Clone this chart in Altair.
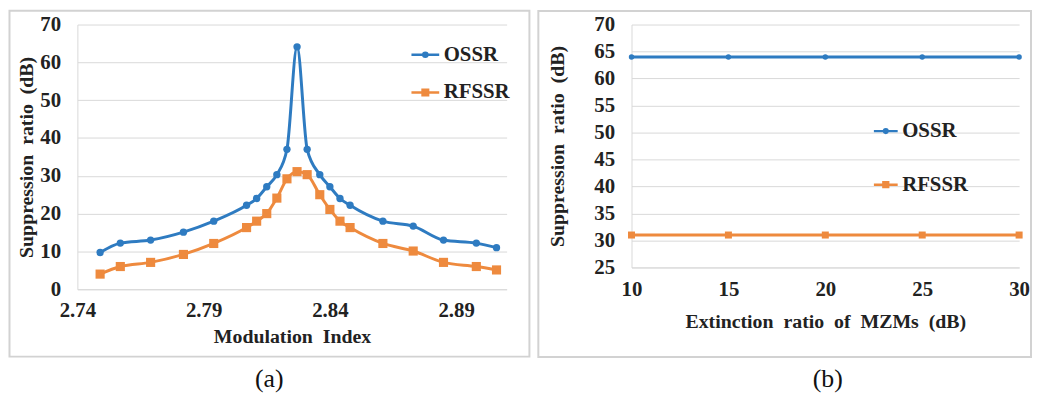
import altair as alt
import pandas as pd

# ---------------- data ----------------
series_names = ["OSSR", "RFSSR"]

mod_index = [2.749, 2.757, 2.769, 2.782, 2.794, 2.807, 2.811, 2.815, 2.819, 2.823, 2.827,
             2.831, 2.836, 2.840, 2.844, 2.848, 2.861, 2.873, 2.885, 2.898, 2.906]
ossr_a = [9.7, 12.2, 13.0, 15.1, 18.0, 22.2, 24.0, 27.1, 30.3, 37.0, 64.1,
          37.0, 30.3, 27.1, 24.0, 22.2, 18.0, 16.7, 13.0, 12.2, 11.0]
rfssr_a = [4.0, 6.0, 7.1, 9.2, 12.1, 16.3, 18.0, 20.0, 24.1, 29.2, 31.1,
           30.3, 25.0, 21.1, 18.0, 16.3, 12.1, 10.1, 7.1, 6.0, 5.1]

ext_ratio = [10, 15, 20, 25, 30]
ossr_b = [64, 64, 64, 64, 64]
rfssr_b = [31, 31, 31, 31, 31]

x_ticks_a = [2.74, 2.79, 2.84, 2.89]
y_ticks_a = [0, 10, 20, 30, 40, 50, 60, 70]
x_ticks_b = [10, 15, 20, 25, 30]
y_ticks_b = [25, 30, 35, 40, 45, 50, 55, 60, 65, 70]

BLUE = "#2E7BC1"
ORANGE = "#EE8A3E"
FONT = "Liberation Serif"
TXT = "#222222"
GRID = "#D9D9D9"
FRAME = "#D2D2D2"

# legend symbols: short line with a marker in the middle
LEG_CIRCLE = "M-1,0H1M-0.15,0A0.15,0.15 0 1,0 0.15,0A0.15,0.15 0 1,0 -0.15,0Z"
LEG_SQUARE = "M-1,0H1M-0.2,-0.2H0.2V0.2H-0.2Z"


def make_df(xs, a, b):
    return pd.DataFrame({
        "x": xs + xs,
        "y": a + b,
        "series": [series_names[0]] * len(xs) + [series_names[1]] * len(xs),
    })


def panel(df, xdom, xvals, xfmt, xtitle, ydom, yvals, ytitle, w, h,
          frame, caption, cap_xy, leg, circ_size, sq_size, lw,
          xlp, xtp, ylp, ytp):
    X = alt.X("x:Q", scale=alt.Scale(domain=xdom, nice=False, zero=False),
              axis=alt.Axis(values=xvals, format=xfmt, grid=False, labelFlush=False,
                            labelPadding=xlp, titlePadding=xtp, labelOverlap=False),
              title=xtitle)
    Y = alt.Y("y:Q", scale=alt.Scale(domain=ydom, nice=False, zero=False),
              axis=alt.Axis(values=yvals, grid=True, labelPadding=ylp, titlePadding=ytp,
                            labelOverlap=False),
              title=ytitle)

    one = pd.DataFrame({"caption": [caption]})
    frame_layer = alt.Chart(one).mark_rect(fill="transparent", stroke=FRAME, strokeWidth=2).encode(
        x=alt.value(frame[0]), x2=alt.value(frame[1]),
        y=alt.value(frame[2]), y2=alt.value(frame[3]))
    cap_layer = alt.Chart(one).mark_text(font=FONT, fontSize=26, color="#111",
                                         align="center", baseline="middle").encode(
        text="caption:N", x=alt.value(cap_xy[0]), y=alt.value(cap_xy[1]))

    base = alt.Chart(df)
    line_o = base.transform_filter(alt.datum.series == "OSSR").mark_line(
        color=BLUE, strokeWidth=lw, interpolate="monotone").encode(x=X, y=Y)
    line_r = base.transform_filter(alt.datum.series == "RFSSR").mark_line(
        color=ORANGE, strokeWidth=lw, interpolate="monotone").encode(x=X, y=Y)
    pt_o = base.transform_filter(alt.datum.series == "OSSR").mark_circle(
        color=BLUE, size=circ_size, opacity=1).encode(x=X, y=Y)
    pt_r = base.transform_filter(alt.datum.series == "RFSSR").mark_square(
        color=ORANGE, size=sq_size, opacity=1).encode(x=X, y=Y)

    lg = alt.Legend(orient="none", legendX=leg["x"], legendY=leg["y"], title=None,
                    symbolSize=leg["size"], symbolStrokeWidth=2.5,
                    labelFont=FONT, labelFontSize=21, labelFontWeight="bold",
                    labelColor=TXT, labelOffset=leg["off"], rowPadding=leg["rp"],
                    padding=0)
    legend_layer = base.transform_filter("false").mark_point(
        filled=True, opacity=1, strokeWidth=2.5).encode(
        x=X, y=Y,
        fill=alt.Fill("series:N", scale=alt.Scale(domain=series_names, range=[BLUE, ORANGE]), legend=lg),
        stroke=alt.Stroke("series:N", scale=alt.Scale(domain=series_names, range=[BLUE, ORANGE]), legend=lg),
        shape=alt.Shape("series:N", scale=alt.Scale(domain=series_names, range=[LEG_CIRCLE, LEG_SQUARE]), legend=lg),
    )
    return alt.layer(frame_layer, cap_layer, line_o, line_r, pt_o, pt_r, legend_layer).properties(
        width=w, height=h)


df_a = make_df(mod_index, ossr_a, rfssr_a)
df_b = make_df(ext_ratio, ossr_b, rfssr_b)

W_A, H_A = 433, 267
W_B, H_B = 391, 245

chart_a = panel(df_a, [2.74, 2.91], x_ticks_a, ".2f", "Modulation\u00a0 Index",
                [0, 70], y_ticks_a, "Suppression\u00a0 ratio\u00a0 (dB)", W_A, H_A,
                frame=(-68.5, W_A + 23, -14, H_A + 68), caption="(a)", cap_xy=(193.5, 358),
                leg={"x": 335.5, "y": 15, "size": 784, "off": 3, "rp": 12},
                circ_size=55, sq_size=85, lw=3, xlp=11, xtp=6, ylp=17, ytp=3)

chart_b = panel(df_b, [10, 30], x_ticks_b, "d", "Extinction\u00a0 ratio\u00a0 of\u00a0 MZMs\u00a0 (dB)",
                [25, 70], y_ticks_b, "Suppression\u00a0 ratio\u00a0 (dB)", W_B, H_B,
                frame=(-94, W_B + 12, -13.7, H_B + 90.3), caption="(b)", cap_xy=(198, 358),
                leg={"x": 243, "y": 94, "size": 576, "off": 3, "rp": 30},
                circ_size=30, sq_size=50, lw=3, xlp=11, xtp=13, ylp=17, ytp=27)

chart = alt.hconcat(chart_a, chart_b, spacing=7).resolve_scale(
    fill="independent", stroke="independent", shape="independent"
).resolve_legend(
    fill="independent", stroke="independent", shape="independent"
).properties(
    padding={"left": 0, "top": 0, "right": 0, "bottom": 0}
).configure_view(stroke=None).configure_axis(
    domainColor=GRID, gridColor=GRID, ticks=False,
    labelFont=FONT, labelFontSize=21, labelFontWeight="bold", labelColor=TXT,
    titleFont=FONT, titleFontSize=20, titleFontWeight="bold", titleColor=TXT,
)

chart.save("out.html", embed_options={"renderer": "svg", "actions": False})
